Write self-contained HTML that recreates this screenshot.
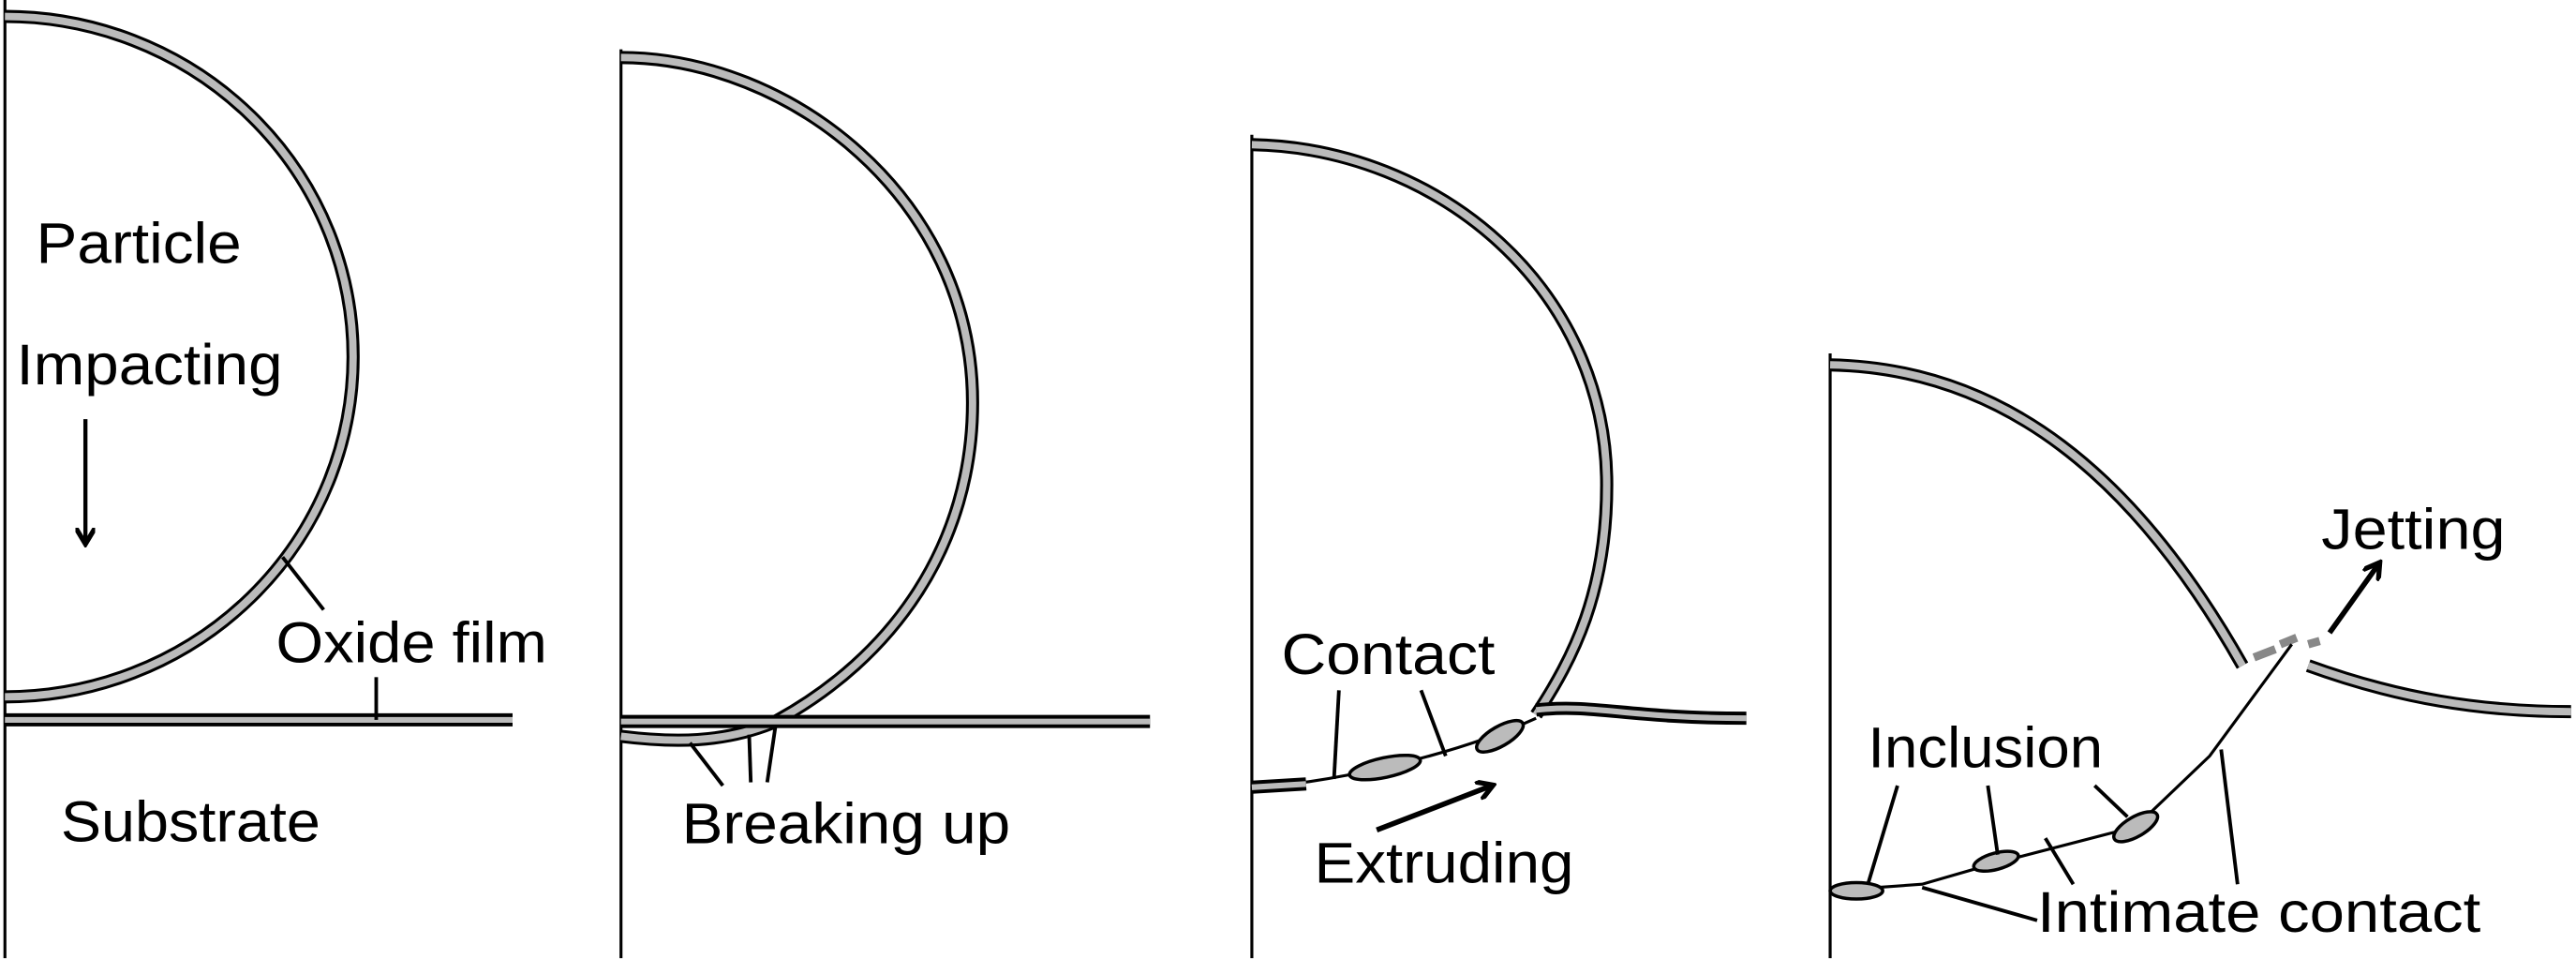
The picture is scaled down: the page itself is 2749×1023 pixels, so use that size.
<!DOCTYPE html>
<html><head><style>
html,body{margin:0;padding:0;background:#fff;}
svg{display:block;}
text{font-family:"Liberation Sans",Arial,sans-serif;font-size:35px;fill:#000;}
</style></head><body>
<svg width="2749" height="1023" viewBox="0 0 1568 583.5" preserveAspectRatio="none" xmlns="http://www.w3.org/2000/svg">
<defs>
<marker id="ah" markerWidth="12" markerHeight="12" refX="9" refY="6" orient="auto" markerUnits="userSpaceOnUse">
<path d="M0,0 L10,6 L0,12" fill="none" stroke="#000" stroke-width="3"/>
</marker>
</defs>
<g fill="none" stroke-linecap="butt">
<line x1="3" y1="0" x2="3" y2="583" stroke="#000" stroke-width="1.8"/>
<line x1="378" y1="30" x2="378" y2="583" stroke="#000" stroke-width="1.8"/>
<line x1="762" y1="82" x2="762" y2="583" stroke="#000" stroke-width="1.8"/>
<line x1="1114" y1="215" x2="1114" y2="583" stroke="#000" stroke-width="1.8"/>

<!-- panel 1 -->
<path d="M3,10 A212,207 0 0 1 3,424" stroke="#000" stroke-width="8"/>
<path d="M3,10 A212,207 0 0 1 3,424" stroke="#bbb" stroke-width="4.5"/>
<path d="M3,438 L312,438" stroke="#000" stroke-width="8"/>
<path d="M3,438 L312,438" stroke="#bbb" stroke-width="3.5"/>
<line x1="172" y1="339" x2="197" y2="371" stroke="#000" stroke-width="2.2"/>
<line x1="229" y1="412" x2="229" y2="438" stroke="#000" stroke-width="2.2"/>
<line x1="52" y1="255" x2="52" y2="330" stroke="#000" stroke-width="2.5" marker-end="url(#ah)"/>

<!-- panel 2 -->
<path d="M378,35 C480,35 592,120 592,245 C592,330 545,400 470,440 C440,452 410,452 378,448" stroke="#000" stroke-width="8"/>
<path d="M378,35 C480,35 592,120 592,245 C592,330 545,400 470,440 C440,452 410,452 378,448" stroke="#bbb" stroke-width="4.5"/>
<path d="M378,439 L700,439" stroke="#000" stroke-width="8"/>
<path d="M378,439 L700,439" stroke="#bbb" stroke-width="3.5"/>
<line x1="420" y1="452" x2="440" y2="478" stroke="#000" stroke-width="2.2"/>
<line x1="456" y1="447" x2="457" y2="476" stroke="#000" stroke-width="2.2"/>
<line x1="472" y1="442" x2="467" y2="476" stroke="#000" stroke-width="2.2"/>

<!-- panel 3 -->
<path d="M762,88 C875,90 978,175 978,295 C978,360 958,400 935,435" stroke="#000" stroke-width="8"/>
<path d="M762,88 C875,90 978,175 978,295 C978,360 958,400 935,435" stroke="#bbb" stroke-width="4.5"/>
<path d="M935,432 C970,428 990,437 1063,437" stroke="#000" stroke-width="8"/>
<path d="M935,432 C970,428 990,437 1063,437" stroke="#bbb" stroke-width="3.5"/>
<path d="M762,479 C800,478 880,462 935,437" stroke="#000" stroke-width="1.8"/>
<path d="M762,479 L795,477" stroke="#000" stroke-width="8"/>
<path d="M762,479 L795,477" stroke="#bbb" stroke-width="3.5"/>
<ellipse cx="843" cy="467" rx="22" ry="6" transform="rotate(-12 843 467)" fill="#bbb" stroke="#000" stroke-width="2"/>
<ellipse cx="913" cy="448" rx="16" ry="6" transform="rotate(-30 913 448)" fill="#bbb" stroke="#000" stroke-width="2"/>
<line x1="815" y1="420" x2="812" y2="474" stroke="#000" stroke-width="2.2"/>
<line x1="865" y1="420" x2="880" y2="460" stroke="#000" stroke-width="2.2"/>
<line x1="838" y1="505" x2="908" y2="478" stroke="#000" stroke-width="3.2" marker-end="url(#ah)"/>

<!-- panel 4 -->
<path d="M1114,222 C1220,224 1300,290 1365,405" stroke="#000" stroke-width="8"/>
<path d="M1114,222 C1220,224 1300,290 1365,405" stroke="#bbb" stroke-width="4.5"/>
<path d="M1405,405 C1460,425 1510,433 1565,433" stroke="#000" stroke-width="8"/>
<path d="M1405,405 C1460,425 1510,433 1565,433" stroke="#bbb" stroke-width="4.5"/>
<path d="M1372,400 L1385,395 M1388,392 L1398,388 M1405,392 L1412,390" stroke="#888" stroke-width="5"/>
<path d="M1114,542 L1170,538 L1215,525 L1300,503 L1345,460 L1395,392" stroke="#000" stroke-width="1.8"/>
<ellipse cx="1130" cy="542" rx="16" ry="5" fill="#bbb" stroke="#000" stroke-width="2"/>
<ellipse cx="1215" cy="524" rx="14" ry="5" transform="rotate(-15 1215 524)" fill="#bbb" stroke="#000" stroke-width="2"/>
<ellipse cx="1300" cy="503" rx="15" ry="6" transform="rotate(-30 1300 503)" fill="#bbb" stroke="#000" stroke-width="2"/>
<line x1="1155" y1="478" x2="1137" y2="538" stroke="#000" stroke-width="2.2"/>
<line x1="1210" y1="478" x2="1216" y2="520" stroke="#000" stroke-width="2.2"/>
<line x1="1275" y1="478" x2="1295" y2="497" stroke="#000" stroke-width="2.2"/>
<line x1="1170" y1="540" x2="1240" y2="560" stroke="#000" stroke-width="2.2"/>
<line x1="1245" y1="510" x2="1262" y2="538" stroke="#000" stroke-width="2.2"/>
<line x1="1352" y1="456" x2="1362" y2="538" stroke="#000" stroke-width="2.2"/>
<line x1="1418" y1="385" x2="1448" y2="343" stroke="#000" stroke-width="3.2" marker-end="url(#ah)"/>
</g>

<g lengthAdjust="spacingAndGlyphs">
<text x="22" y="160" textLength="125" lengthAdjust="spacingAndGlyphs">Particle</text>
<text x="10" y="234" textLength="162" lengthAdjust="spacingAndGlyphs">Impacting</text>
<text x="168" y="403" textLength="165" lengthAdjust="spacingAndGlyphs">Oxide film</text>
<text x="37" y="512" textLength="158" lengthAdjust="spacingAndGlyphs">Substrate</text>
<text x="415" y="513" textLength="200" lengthAdjust="spacingAndGlyphs">Breaking up</text>
<text x="780" y="410" textLength="130" lengthAdjust="spacingAndGlyphs">Contact</text>
<text x="800" y="537" textLength="158" lengthAdjust="spacingAndGlyphs">Extruding</text>
<text x="1413" y="334" textLength="112" lengthAdjust="spacingAndGlyphs">Jetting</text>
<text x="1137" y="467" textLength="143" lengthAdjust="spacingAndGlyphs">Inclusion</text>
<text x="1240" y="567" textLength="270" lengthAdjust="spacingAndGlyphs">Intimate contact</text>
</g>
</svg>
</body></html>
